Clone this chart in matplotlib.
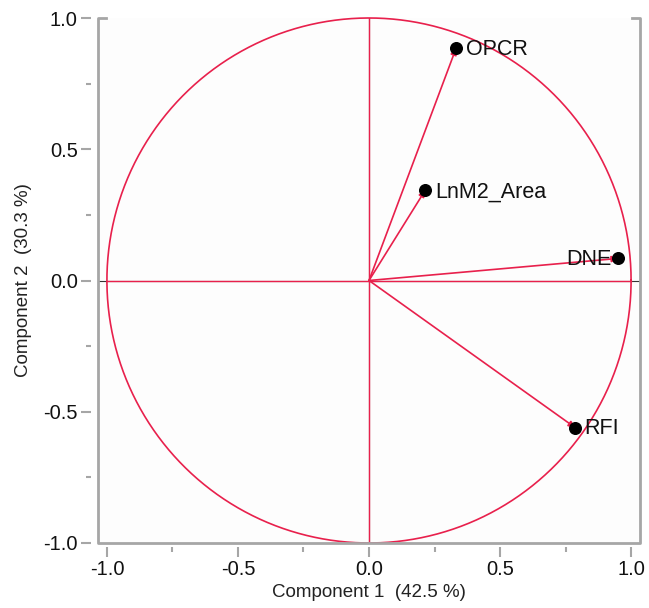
import numpy as np
import matplotlib.pyplot as plt
from matplotlib.ticker import MultipleLocator

plt.rcParams["font.family"] = ["Liberation Sans", "DejaVu Sans"]

labels = ["OPCR", "LnM2_Area", "DNE", "RFI"]
comp1 = [0.332, 0.214, 0.950, 0.786]
comp2 = [0.884, 0.343, 0.084, -0.560]
pct1 = 42.5
pct2 = 30.3

red = "#e8204c"
gray = "#a6a6a6"

fig = plt.figure(figsize=(6.49, 6.08), dpi=100)
ax = fig.add_axes([98 / 649, 1 - 543 / 608, 542 / 649, 525 / 608])
ax.set_facecolor("#fdfdfd")
ax.set_xlim(-1.034, 1.034)
ax.set_ylim(-1.0, 1.0)

# reference lines
ax.axhline(0, color="#333333", lw=0.8, zorder=1)
ax.axvline(0, color="#333333", lw=0.8, zorder=1)
ax.plot([-1, 1], [0, 0], color=red, lw=1.0, zorder=2)
ax.plot([0, 0], [-1, 1], color=red, lw=1.0, zorder=2)

t = np.linspace(0, 2 * np.pi, 400)
ax.plot(np.cos(t), np.sin(t), color=red, lw=1.2, zorder=2, clip_on=False)

for lab, x, y in zip(labels, comp1, comp2):
    ax.annotate("", xy=(x, y), xytext=(0, 0),
                arrowprops=dict(arrowstyle="-|>", color=red, lw=1.2,
                                mutation_scale=9, shrinkA=0, shrinkB=0),
                zorder=3)
    ax.scatter(x, y, s=70, color="black", zorder=4)
    if lab == "DNE":
        ax.annotate(lab, (x, y), xytext=(-5, -1), textcoords="offset points",
                    ha="right", va="center", fontsize=15.5, color="#111111", zorder=5)
    else:
        ax.annotate(lab, (x, y), xytext=(7, -1), textcoords="offset points",
                    ha="left", va="center", fontsize=15.5, color="#111111", zorder=5)

# frame
for s in ["left", "bottom", "right", "top"]:
    ax.spines[s].set_visible(False)
ax.spines["left"].set_position(("outward", 5))
ax.spines["bottom"].set_position(("outward", 3))
fr = dict(color=gray, lw=2, transform=ax.transAxes, clip_on=False, zorder=6)
cap = 8 / 542
ax.plot([cap, 0, 0, 1, 1, 1 - cap], [1, 1, 0, 0, 1, 1], **fr)

ax.xaxis.set_major_locator(MultipleLocator(0.5))
ax.xaxis.set_minor_locator(MultipleLocator(0.25))
ax.yaxis.set_major_locator(MultipleLocator(0.5))
ax.yaxis.set_minor_locator(MultipleLocator(0.25))
ax.xaxis.set_major_formatter(lambda v, p: f"{v:.1f}")
ax.yaxis.set_major_formatter(lambda v, p: f"{v:.1f}")
ax.tick_params(which="major", direction="out", length=7, width=1.5, color=gray,
               labelsize=14.5, labelcolor="#111111", pad=2.5)
ax.tick_params(which="minor", direction="out", length=3.5, width=1.5, color=gray)

ax.set_xlabel(f"Component 1  ({pct1} %)", fontsize=13.5, color="#222222", labelpad=3)
ax.set_ylabel(f"Component 2  ({pct2} %)", fontsize=13.5, color="#222222", labelpad=8)

fig.savefig("out.png", dpi=100)
